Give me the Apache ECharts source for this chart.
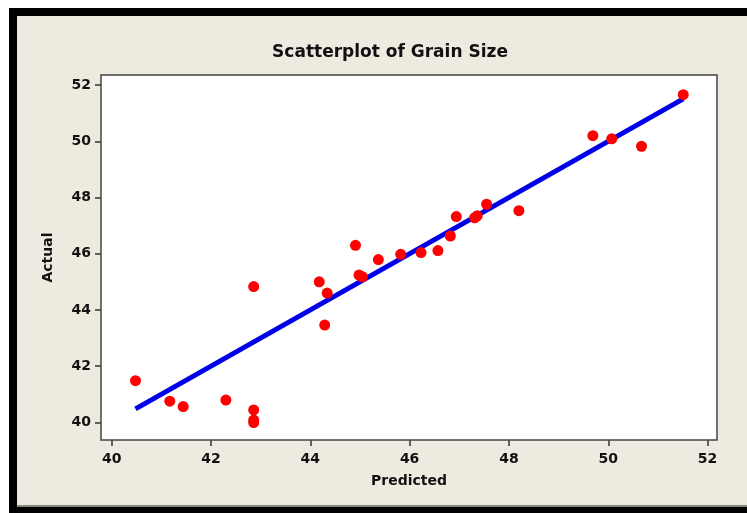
<!DOCTYPE html>
<html>
<head>
<meta charset="utf-8">
<script src="https://cdn.jsdelivr.net/npm/echarts@6/dist/echarts.min.js"></script>
<style>
  html, body { margin: 0; padding: 0; background: #ffffff; }
  #chart { width: 747px; height: 513px; }
</style>
</head>
<body>
<div id="chart"></div>
<script>
// Grain size: predicted vs actual values
const predicted = [40.48, 41.17, 41.44, 42.30, 42.86, 42.86, 42.86, 42.86,
                   44.18, 44.29, 44.34, 44.91, 44.98, 45.05, 45.37, 45.82,
                   46.23, 46.57, 46.82, 46.94, 47.31, 47.36, 47.55, 48.20,
                   49.69, 50.07, 50.67, 51.51];
const actual    = [41.48, 40.75, 40.56, 40.79, 40.44, 40.08, 39.99, 44.83,
                   45.00, 43.46, 44.60, 46.30, 45.24, 45.18, 45.79, 45.98,
                   46.04, 46.11, 46.63, 47.32, 47.28, 47.35, 47.76, 47.53,
                   50.20, 50.09, 49.82, 51.66];

// Fitted line end points
const fitX = [40.48, 51.51];
const fitY = [40.48, 51.51];

// Tick labels
const xTicks = [40, 42, 44, 46, 48, 50, 52];
const yTicks = [40, 42, 44, 46, 48, 50, 52];

const FONT = '"DejaVu Sans", sans-serif';
const chart = echarts.init(document.getElementById('chart'), null, { renderer: 'canvas' });

const points = predicted.map((p, i) => [p, actual[i]]);
const fitLine = fitX.map((x, i) => [x, fitY[i]]);

chart.setOption({
  animation: false,
  backgroundColor: '#ffffff',
  // Outer frame: black border with a beige panel
  graphic: {
    elements: [
      { type: 'rect', z: -10, shape: { x: 9, y: 8, width: 760, height: 520 }, style: { fill: '#000000' } },
      { type: 'rect', z: -9, shape: { x: 17, y: 16, width: 750, height: 491 }, style: { fill: '#eeeae0' } },
      { type: 'rect', z: -8, shape: { x: 17, y: 505, width: 750, height: 2 }, style: { fill: '#8a8780' } }
    ]
  },
  title: {
    text: 'Scatterplot of Grain Size',
    left: 385,
    top: 39,
    textAlign: 'center',
    textStyle: { fontFamily: FONT, fontWeight: 'bold', fontSize: 17, color: '#111111' }
  },
  grid: {
    left: 101, top: 75, right: 30, bottom: 73,
    show: true,
    z: 2,
    backgroundColor: '#ffffff',
    borderColor: '#444444',
    borderWidth: 1.5
  },
  xAxis: {
    type: 'value',
    min: 39.785,
    max: 52.19,
    name: 'Predicted',
    nameLocation: 'middle',
    nameGap: 34,
    nameTextStyle: { fontFamily: FONT, fontWeight: 'bold', fontSize: 14, color: '#111111' },
    axisLine: { show: false },
    splitLine: { show: false },
    axisTick: { show: true, customValues: xTicks, length: 6, lineStyle: { color: '#333333', width: 1.5 } },
    axisLabel: { customValues: xTicks, margin: 12, fontFamily: FONT, fontWeight: 'bold', fontSize: 14, color: '#111111' }
  },
  yAxis: {
    type: 'value',
    min: 39.37,
    max: 52.36,
    name: 'Actual',
    nameLocation: 'middle',
    nameGap: 46,
    nameTextStyle: { fontFamily: FONT, fontWeight: 'bold', fontSize: 14, color: '#111111' },
    axisLine: { show: false },
    splitLine: { show: false },
    axisTick: { show: true, customValues: yTicks, length: 6, lineStyle: { color: '#333333', width: 1.5 } },
    axisLabel: { customValues: yTicks, margin: 10, fontFamily: FONT, fontWeight: 'bold', fontSize: 14, color: '#111111' }
  },
  series: [
    {
      type: 'line',
      data: fitLine,
      symbol: 'none',
      z: 3,
      lineStyle: { color: '#0000e8', width: 5 }
    },
    {
      type: 'scatter',
      data: points,
      symbol: 'circle',
      symbolSize: 11,
      z: 4,
      itemStyle: { color: '#ff0000', opacity: 1 }
    }
  ]
});
</script>
</body>
</html>
